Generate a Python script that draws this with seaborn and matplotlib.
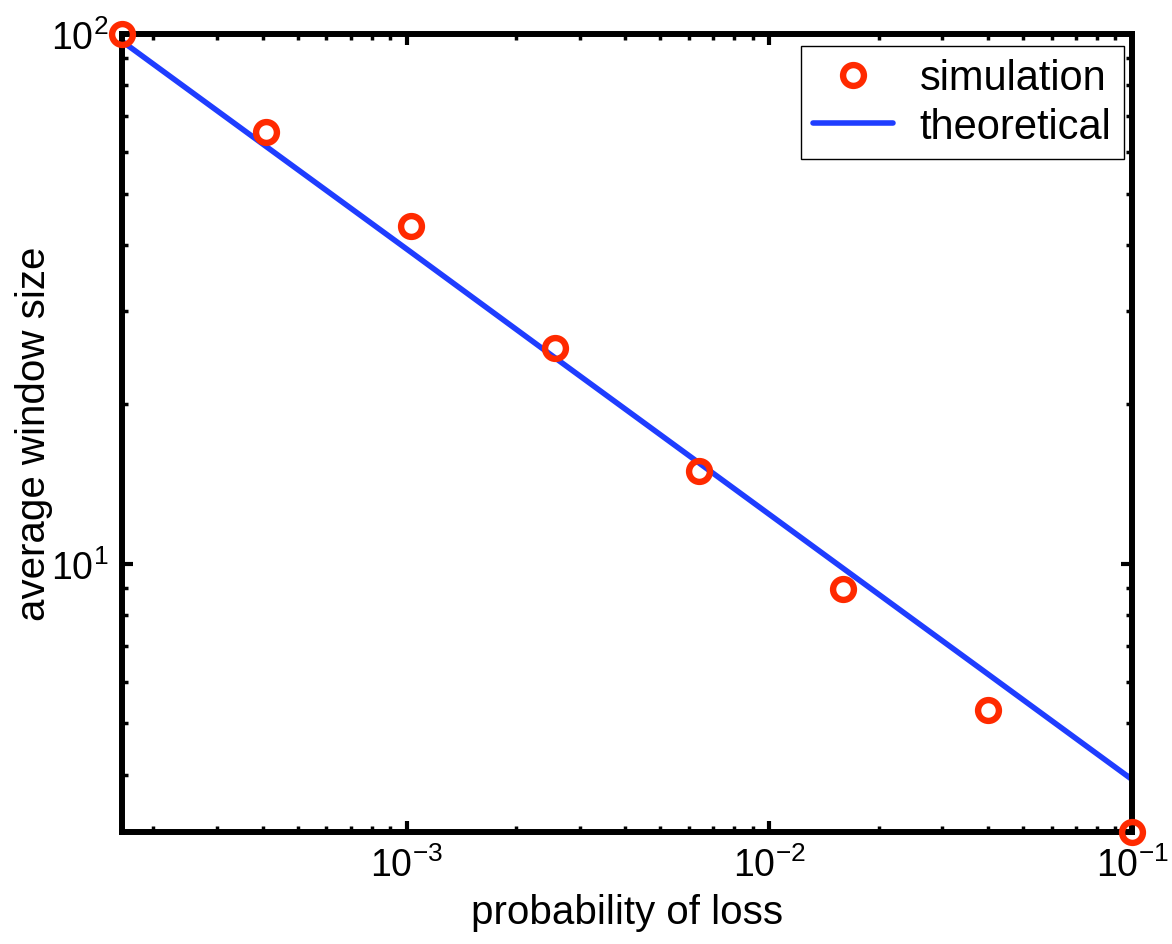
import numpy as np
import pandas as pd
import matplotlib
matplotlib.use("Agg")
import matplotlib.pyplot as plt
import seaborn as sns
from matplotlib.ticker import LogLocator, NullFormatter

# Loss probabilities (each step is a factor of 2.5)
loss_prob = [1.6384e-4, 4.096e-4, 1.024e-3, 2.56e-3, 6.4e-3, 1.6e-2, 4.0e-2, 1.0e-1]
# Measured average congestion window
sim_window = [100.0, 65.3, 43.5, 25.5, 15.0, 8.97, 5.30, 3.12]
# Square-root model prediction at the same loss probabilities
theory_window = [96.9, 61.3, 38.8, 24.5, 15.5, 9.80, 6.20, 3.92]

x_label = "probability of loss"
y_label = "average window size"

sns.set_theme(style="white")
plt.rcParams["font.family"] = ["Liberation Sans", "DejaVu Sans"]
plt.rcParams["mathtext.fontset"] = "custom"
plt.rcParams["mathtext.rm"] = "Liberation Sans"
plt.rcParams["mathtext.it"] = "Liberation Sans"
plt.rcParams["mathtext.default"] = "regular"
plt.rcParams["text.color"] = "black"
plt.rcParams["axes.labelcolor"] = "black"
plt.rcParams["xtick.color"] = "black"
plt.rcParams["ytick.color"] = "black"

df_sim = pd.DataFrame({"p": loss_prob, "w": sim_window})
df_th = pd.DataFrame({"p": loss_prob, "w": theory_window})

fig = plt.figure(figsize=(11.72, 9.45), dpi=100)
ax = fig.add_axes([0.1041, 0.1185, 0.8618, 0.8445])

red = "#ff2a00"
blue = "#1f3dff"

sns.lineplot(data=df_th, x="p", y="w", ax=ax, color=blue, linewidth=4.0,
             label="theoretical", zorder=3)
sns.lineplot(data=df_sim, x="p", y="w", ax=ax, linestyle="", marker="o",
             markersize=15, markerfacecolor="none", markeredgecolor=red,
             markeredgewidth=4.6, label="simulation", zorder=5)
for ln in ax.lines:
    ln.set_clip_on(False)

ax.set_xscale("log")
ax.set_yscale("log")
ax.set_xlim(loss_prob[0], loss_prob[-1])
ax.set_ylim(sim_window[-1], sim_window[0])

ax.xaxis.set_major_locator(LogLocator(base=10))
ax.yaxis.set_major_locator(LogLocator(base=10))
ax.xaxis.set_minor_locator(LogLocator(base=10, subs=np.arange(2, 10)))
ax.yaxis.set_minor_locator(LogLocator(base=10, subs=np.arange(2, 10)))
ax.xaxis.set_minor_formatter(NullFormatter())
ax.yaxis.set_minor_formatter(NullFormatter())

for s in ax.spines.values():
    s.set_linewidth(4.3)
    s.set_color("black")
    s.set_zorder(4)

ax.tick_params(which="both", direction="in", top=True, right=True,
               bottom=True, left=True, color="black")
ax.tick_params(which="major", length=8, width=3.0, labelsize=27, pad=10)
ax.tick_params(which="minor", length=4.5, width=2.5)

ax.set_xlabel(x_label, fontsize=29, labelpad=7)
ax.set_ylabel(y_label, fontsize=29, labelpad=-2)

# legend order: markers first, then line
handles, labels = ax.get_legend_handles_labels()
order = [labels.index("simulation"), labels.index("theoretical")]
leg = ax.legend([handles[i] for i in order], [labels[i] for i in order],
                loc="upper right", fontsize=30, frameon=True, fancybox=False,
                framealpha=1, edgecolor="black", borderpad=0.3,
                handlelength=1.9, handletextpad=0.65, labelspacing=0.2,
                borderaxespad=0, bbox_to_anchor=(0.992, 0.985))
leg.get_frame().set_linewidth(1.0)

fig.savefig("out.png", dpi=100)
